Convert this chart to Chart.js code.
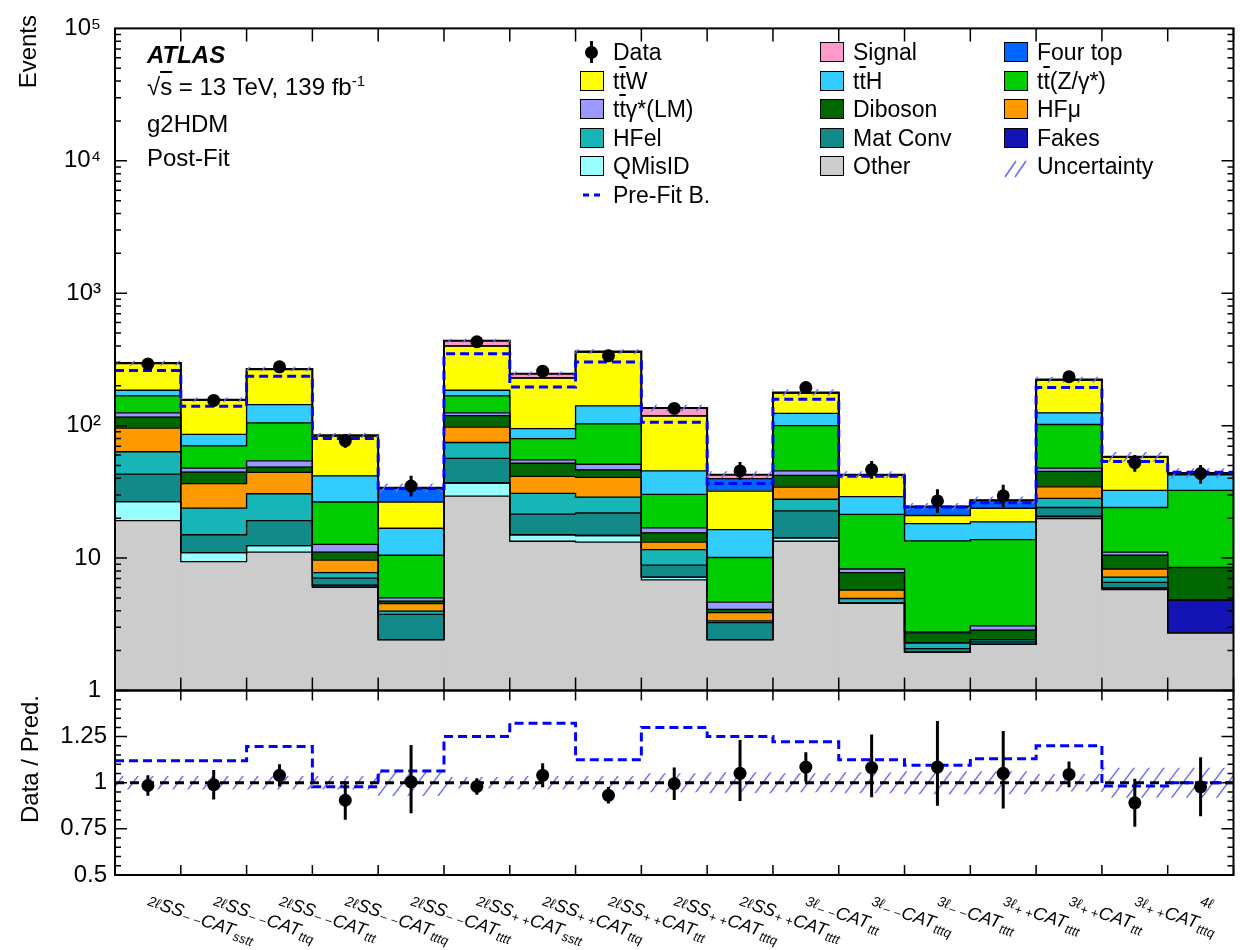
<!DOCTYPE html>
<html>
<head>
<meta charset="utf-8">
<title>g2HDM post-fit yields</title>
<script src="https://cdn.jsdelivr.net/npm/chart.js@4.4.1/dist/chart.umd.min.js"></script>
<style>
  body { margin: 0; background: #fff; }
  #wrap { position: relative; width: 1240px; height: 950px; font-family: "Liberation Sans", Arial, sans-serif; color: #000; }
  #c { position: absolute; left: 0; top: 0; }
  .txt { position: absolute; white-space: nowrap; font-size: 24px; line-height: 24px; }
  .ov { text-decoration: overline; text-decoration-thickness: 2px; }
  sup { font-size: 15px; vertical-align: 9px; line-height: 0; }
  .rot { position: absolute; transform-origin: 0 0; transform: rotate(-90deg); font-size: 24px; line-height: 24px; white-space: nowrap; }
  .lgi { position: absolute; height: 24px; font-size: 23px; line-height: 24px; white-space: nowrap; }
  .lgi .box { position: absolute; left: 0; top: 2px; width: 22px; height: 18px; border: 1.5px solid #000; }
  .lgi .lab { position: absolute; left: 33px; top: 0; }
</style>
</head>
<body>
<div id="wrap">
  <canvas id="c" width="1240" height="950"></canvas>
  <div class="rot" style="left:16px; top:215px; width:200px; text-align:right;">Events</div>
  <div class="rot" style="left:18px; top:909px; width:300px; text-align:center;">Data / Pred.</div>
  <div class="txt" style="left:147px; top:43px; font-weight:bold; font-style:italic;">ATLAS</div>
  <div class="txt" style="left:147px; top:75px;">√<span class="ov">s</span> = 13 TeV, 139 fb<sup>-1</sup></div>
  <div class="txt" style="left:147px; top:112px;">g2HDM</div>
  <div class="txt" style="left:147px; top:146px;">Post-Fit</div>
  <div id="legend"></div>
</div>
<script>
const NB = 17;
const YMIN = 1, YMAX = 1e5, RMIN = 0.5, RMAX = 1.5;

// region labels, one entry per bin
const chLep  = ['2ℓ','2ℓ','2ℓ','2ℓ','2ℓ','2ℓ','2ℓ','2ℓ','2ℓ','2ℓ','3ℓ','3ℓ','3ℓ','3ℓ','3ℓ','3ℓ','4ℓ'];
const chSS   = ['SS','SS','SS','SS','SS','SS','SS','SS','SS','SS','','','','','','',''];
const chSign = ['− −','− −','− −','− −','− −','+ +','+ +','+ +','+ +','+ +','− −','− −','− −','+ +','+ +','+ +',''];
const chCat  = ['sstt','ttq','ttt','tttq','tttt','sstt','ttq','ttt','tttq','tttt','ttt','tttq','tttt','tttt','ttt','tttq',''];

// post-fit yields per process (stacked bottom -> top)
const other   = [19.2, 9.4, 11.1, 6.0, 2.42, 29.4, 13.4, 13.2, 6.85, 2.42, 13.4, 4.55, 1.95, 2.23, 19.9, 5.77, 2.72];
const qmisid  = [7.5, 1.6, 1.3, 0.15, 0, 7.5, 1.6, 1.6, 0.32, 0, 0.8, 0, 0, 0, 0.7, 0.17, 0];
const fakes   = [0, 0, 0, 0.1, 0, 0, 0, 0, 0, 0, 0, 0, 0, 0, 0, 0, 2.09];
const matconv = [16.4, 4.0, 6.8, 0.8, 1.34, 19.8, 6.5, 7.1, 1.69, 0.84, 8.5, 0.04, 0.12, 0.1, 3.5, 0.61, 0];
const hfel    = [20.4, 8.8, 11.4, 0.72, 0.22, 17.9, 9.3, 7.0, 2.74, 0.1, 5.1, 0.36, 0.22, 0.09, 4.1, 0.62, 0];
const hfmu    = [32.4, 12.7, 13.8, 1.88, 0.56, 22.9, 10.6, 11.8, 1.6, 0.51, 6.5, 0.79, 0, 0, 6.3, 1.1, 0];
const diboson = [20.1, 8.1, 4.2, 1.45, 0.19, 21.5, 10.6, 5.7, 2.3, 0.23, 7.8, 2.03, 0.43, 0.44, 10.6, 2.23, 3.66];
const ttgam   = [9.0, 3.2, 5.6, 1.6, 0.27, 6.0, 3.1, 4.7, 1.4, 0.55, 3.5, 0.5, 0.05, 0.22, 2.7, 0.6, 0.05];
const ttz     = [43, 22.6, 50.8, 13.8, 5.5, 43, 24.8, 51.9, 13.4, 5.45, 54.4, 13.1, 10.7, 10.7, 54.2, 13.0, 23.9];
const tth     = [17, 15.6, 39, 15.2, 6.3, 17, 14.9, 38, 15.3, 6.3, 24, 7.7, 4.7, 5.0, 23, 8.3, 10.1];
const ttw     = [109, 69, 121, 41.8, 9.7, 214, 134, 219, 72.4, 15.6, 52, 13.0, 2.8, 5.0, 96, 25.1, 0.5];
const fourtop = [1.5, 1, 1.5, 0.6, 7.4, 1, 1, 1, 1, 7.8, 1, 0.4, 3.4, 3.5, 1, 0.5, 0.5];
const signal  = [1.5, 1, 1.5, 0.5, 0.1, 38, 17, 2, 17, 2.8, 1, 0.2, 0.1, 0.1, 1, 0.3, 0.3];

const dataYield = [292, 155, 278, 77, 35, 430, 258, 337, 135, 45.5, 194, 46.5, 27, 29.5, 234, 52.5, 43.5];
const preFit    = [261, 140, 236, 79.9, 33.5, 349, 196, 302, 106, 36.5, 158, 41.4, 24.3, 26.2, 194, 53.5, 44.5];
const relUnc    = [0.035, 0.035, 0.035, 0.035, 0.07, 0.03, 0.035, 0.035, 0.05, 0.055, 0.05, 0.055, 0.06, 0.06, 0.045, 0.08, 0.08];

// lower panel
const ratio      = [0.985, 0.989, 1.04, 0.905, 1.005, 0.98, 1.04, 0.932, 0.995, 1.051, 1.085, 1.082, 1.085, 1.051, 1.045, 0.891, 0.978];
const ratioErrUp = [0.055, 0.08, 0.06, 0.105, 0.2, 0.045, 0.065, 0.045, 0.088, 0.18, 0.08, 0.18, 0.25, 0.23, 0.07, 0.13, 0.16];
const ratioErrDn = [0.055, 0.08, 0.06, 0.105, 0.17, 0.045, 0.065, 0.045, 0.088, 0.15, 0.08, 0.16, 0.21, 0.19, 0.07, 0.13, 0.16];
const ratioPre   = [1.119, 1.119, 1.197, 0.978, 1.064, 1.25, 1.323, 1.124, 1.30, 1.251, 1.222, 1.125, 1.095, 1.13, 1.2, 0.982, 1.0];

const yTicks = [1, 10, 100, 1000, 10000, 100000];
const rTicks = [0.5, 0.75, 1, 1.25];

const comps = [
  {name: 'Other',   html: 'Other',                             color: '#cccccc', data: other},
  {name: 'QMisID',  html: 'QMisID',                            color: '#99ffff', data: qmisid},
  {name: 'Fakes',   html: 'Fakes',                             color: '#1414b4', data: fakes},
  {name: 'MatConv', html: 'Mat Conv',                          color: '#128a8a', data: matconv},
  {name: 'HFel',    html: 'HFel',                              color: '#17b5b5', data: hfel},
  {name: 'HFmu',    html: 'HFμ',                               color: '#ff9900', data: hfmu},
  {name: 'Diboson', html: 'Diboson',                           color: '#006600', data: diboson},
  {name: 'ttgam',   html: 't<span class="ov">t</span>γ*(LM)',  color: '#9999ff', data: ttgam},
  {name: 'ttZ',     html: 't<span class="ov">t</span>(Z/γ*)',  color: '#00cc00', data: ttz},
  {name: 'ttH',     html: 't<span class="ov">t</span>H',       color: '#33ccff', data: tth},
  {name: 'ttW',     html: 't<span class="ov">t</span>W',       color: '#ffff00', data: ttw},
  {name: 'FourTop', html: 'Four top',                          color: '#0066ff', data: fourtop},
  {name: 'Signal',  html: 'Signal',                            color: '#ff99cc', data: signal}
];

// cumulative stack
let run = new Array(NB).fill(0);
for (const c of comps) {
  c.lo = run;
  c.hi = run.map((v, i) => v + c.data[i]);
  run = c.hi;
}
const total = run;

const edges = arr => arr.map((v, i) => ({x: i, y: v})).concat([{x: NB, y: arr[NB - 1]}]);
const centres = arr => arr.map((v, i) => ({x: i + 0.5, y: v}));

function hatchPattern() {
  const c = document.createElement('canvas');
  c.width = 15; c.height = 20;
  const g = c.getContext('2d');
  g.strokeStyle = '#6d6dff';
  g.lineWidth = 1.4;
  g.beginPath();
  g.moveTo(0, 20); g.lineTo(15, 0);
  g.moveTo(-2, 2.7); g.lineTo(2, -2.7);
  g.moveTo(13, 22.7); g.lineTo(17, 17.3);
  g.stroke();
  return g.createPattern(c, 'repeat');
}
const hatch = hatchPattern();

const datasets = [];

// stacked fills
comps.forEach(c => datasets.push({
  type: 'bar', yAxisID: 'y', order: 10, grouped: false,
  categoryPercentage: 1, barPercentage: 1, borderWidth: 0,
  backgroundColor: c.color,
  data: c.data.map((v, i) => ({x: i + 0.5, y: [Math.max(c.lo[i], YMIN), c.hi[i]]}))
}));
// step outline of every layer
comps.forEach((c, k) => datasets.push({
  type: 'line', yAxisID: 'y', order: 8, stepped: true,
  borderColor: '#000', borderWidth: k === comps.length - 1 ? 2 : 1.3,
  pointRadius: 0, fill: false, data: edges(c.hi)
}));
// uncertainty hatch
datasets.push({
  type: 'bar', yAxisID: 'y', order: 6, grouped: false,
  categoryPercentage: 1, barPercentage: 1, borderWidth: 0, backgroundColor: hatch,
  data: total.map((t, i) => ({x: i + 0.5, y: [t * (1 - relUnc[i]), t * (1 + relUnc[i])]}))
});
// pre-fit background
datasets.push({
  type: 'line', yAxisID: 'y', order: 4, stepped: true,
  borderColor: '#0000ff', borderWidth: 3, borderDash: [9, 5],
  pointRadius: 0, fill: false, data: edges(preFit)
});
// data error bars and markers
datasets.push({
  type: 'bar', yAxisID: 'y', order: 2, grouped: false, maxBarThickness: 3,
  backgroundColor: '#000', borderWidth: 0,
  data: dataYield.map((d, i) => ({x: i + 0.5, y: [d - ratioErrDn[i] * total[i], d + ratioErrUp[i] * total[i]]}))
});
datasets.push({
  type: 'line', yAxisID: 'y', order: 1, showLine: false,
  pointRadius: 6.5, pointBackgroundColor: '#000', pointBorderWidth: 0,
  data: centres(dataYield)
});

// ratio panel
datasets.push({
  type: 'bar', yAxisID: 'yr', order: 6, grouped: false,
  categoryPercentage: 1, barPercentage: 1, borderWidth: 0, backgroundColor: hatch,
  data: relUnc.map((u, i) => ({x: i + 0.5, y: [1 - u, 1 + u]}))
});
datasets.push({
  type: 'line', yAxisID: 'yr', order: 5,
  borderColor: '#000', borderWidth: 3, borderDash: [9, 6],
  pointRadius: 0, fill: false, data: [{x: 0, y: 1}, {x: NB, y: 1}]
});
datasets.push({
  type: 'line', yAxisID: 'yr', order: 4, stepped: true,
  borderColor: '#0000ff', borderWidth: 3, borderDash: [9, 5],
  pointRadius: 0, fill: false, data: edges(ratioPre)
});
datasets.push({
  type: 'bar', yAxisID: 'yr', order: 2, grouped: false, maxBarThickness: 3,
  backgroundColor: '#000', borderWidth: 0,
  data: ratio.map((r, i) => ({x: i + 0.5, y: [r - ratioErrDn[i], r + ratioErrUp[i]]}))
});
datasets.push({
  type: 'line', yAxisID: 'yr', order: 1, showLine: false,
  pointRadius: 6.5, pointBackgroundColor: '#000', pointBorderWidth: 0,
  data: centres(ratio)
});

const SUP = {'2': '²', '3': '³', '4': '⁴', '5': '⁵'};
function logLabel(v) {
  if (v === 1) return '1';
  if (v === 10) return '10';
  return '10' + SUP[String(Math.round(Math.log10(v)))];
}

// inward ticks on all four sides, panel frames, rotated region labels
const atlasAxes = {
  id: 'atlasAxes',
  afterDatasetsDraw(chart) {
    const {ctx} = chart;
    const {x, y, yr} = chart.scales;
    const L = x.left, R = x.right;
    const seg = (x0, y0, x1, y1) => { ctx.moveTo(x0, y0); ctx.lineTo(x1, y1); };
    ctx.save();
    ctx.strokeStyle = '#000';
    ctx.lineWidth = 1.5;
    ctx.beginPath();
    for (let e = 0; e <= NB; e++) {
      const px = x.getPixelForValue(e);
      seg(px, y.top, px, y.top + 13);
      seg(px, y.bottom, px, y.bottom - 13);
      seg(px, yr.top, px, yr.top + 10);
      seg(px, yr.bottom, px, yr.bottom - 10);
    }
    for (let d = 0; d < 5; d++) {
      for (let m = 1; m <= 9; m++) {
        const py = y.getPixelForValue(m * Math.pow(10, d));
        const len = m === 1 ? 12 : 6;
        seg(L, py, L + len, py);
        seg(R, py, R - len, py);
      }
    }
    for (let k = 0; k <= 20; k++) {
      const py = yr.getPixelForValue(RMIN + k * 0.05);
      const len = k % 5 === 0 ? 12 : 6;
      seg(L, py, L + len, py);
      seg(R, py, R - len, py);
    }
    ctx.stroke();
    ctx.lineWidth = 2;
    ctx.strokeRect(L, y.top, R - L, y.bottom - y.top);
    ctx.strokeRect(L, yr.top, R - L, yr.bottom - yr.top);
    ctx.restore();
  },
  afterDraw(chart) {
    const {ctx} = chart;
    const x = chart.scales.x;
    const base = chart.scales.yr.bottom;
    ctx.save();
    ctx.fillStyle = '#000';
    ctx.textBaseline = 'alphabetic';
    for (let i = 0; i < NB; i++) {
      const parts = [
        [chLep[i], 14, 0],
        [chSS[i], 18, 1],
        [chSign[i], 13, 4],
        [chCat[i] ? 'CAT' : '', 18, 3],
        [chCat[i], 13, 7]
      ];
      ctx.save();
      ctx.translate(x.getPixelForValue(i + 0.5) - 1, base + 30);
      ctx.rotate(18 * Math.PI / 180);
      let cx = 0;
      for (const [t, s, dy] of parts) {
        if (!t) continue;
        ctx.font = `italic ${s}px "Liberation Sans", Arial, sans-serif`;
        ctx.fillText(t, cx, dy);
        cx += ctx.measureText(t).width + 0.5;
      }
      ctx.restore();
    }
    ctx.restore();
  }
};

Chart.defaults.font.family = '"Liberation Sans", Arial, sans-serif';
Chart.defaults.color = '#000';

new Chart(document.getElementById('c'), {
  data: {datasets},
  options: {
    responsive: false,
    animation: false,
    events: [],
    layout: {padding: {left: 0, top: 17, right: 5, bottom: 0}},
    plugins: {legend: {display: false}, tooltip: {enabled: false}},
    scales: {
      x: {
        type: 'linear', min: 0, max: NB, offset: false,
        ticks: {stepSize: 1, display: false},
        grid: {display: false, offset: false}, border: {display: false},
        afterFit(s) { s.height = 75; }
      },
      y: {
        type: 'logarithmic', position: 'left', stack: 'panels', stackWeight: 671, weight: 2,
        min: YMIN, max: YMAX,
        afterBuildTicks(s) { s.ticks = yTicks.map(v => ({value: v})); },
        ticks: {font: {size: 24}, padding: 14, autoSkip: false, callback: v => logLabel(v)},
        grid: {display: false, drawTicks: false}, border: {display: false},
        afterFit(s) { s.width = 115; }
      },
      yr: {
        type: 'linear', position: 'left', stack: 'panels', stackWeight: 187, weight: 1,
        min: RMIN, max: RMAX,
        afterBuildTicks(s) { s.ticks = rTicks.map(v => ({value: v})); },
        ticks: {font: {size: 24}, padding: 8, autoSkip: false, callback: v => String(v)},
        grid: {display: false, drawTicks: false}, border: {display: false},
        afterFit(s) { s.width = 115; }
      }
    }
  },
  plugins: [atlasAxes]
});

// legend, laid out in the same 3-column order as the reference
const byName = Object.fromEntries(comps.map(c => [c.name, c]));
const legendGrid = [
  ['data', 'Signal', 'FourTop'],
  ['ttW', 'ttH', 'ttZ'],
  ['ttgam', 'Diboson', 'HFmu'],
  ['HFel', 'MatConv', 'Fakes'],
  ['QMisID', 'Other', 'unc'],
  ['prefit']
];
const legCols = [580, 820, 1004];
const legend = document.getElementById('legend');
legendGrid.forEach((row, r) => row.forEach((key, col) => {
  const el = document.createElement('div');
  el.className = 'lgi';
  el.style.left = legCols[col] + 'px';
  el.style.top = (40 + r * 28.6) + 'px';
  let sym = '', text = '';
  if (key === 'data') {
    sym = '<div style="position:absolute;left:10px;top:1px;width:3px;height:22px;background:#000"></div>' +
          '<div style="position:absolute;left:5px;top:6px;width:13px;height:13px;border-radius:50%;background:#000"></div>';
    text = 'Data';
  } else if (key === 'unc') {
    sym = '<svg style="position:absolute;left:0;top:0" width="26" height="24"><path d="M1 23 L12 7 M11 23 L22 7" stroke="#6d6dff" stroke-width="1.6"/></svg>';
    text = 'Uncertainty';
  } else if (key === 'prefit') {
    sym = '<svg style="position:absolute;left:0;top:0" width="26" height="24"><path d="M3 12 H9 M14 12 H20" stroke="#0000ff" stroke-width="3"/></svg>';
    text = 'Pre-Fit B.';
  } else {
    const c = byName[key];
    sym = `<div class="box" style="background:${c.color}"></div>`;
    text = c.html;
  }
  el.innerHTML = sym + `<span class="lab">${text}</span>`;
  legend.appendChild(el);
}));
</script>
</body>
</html>
